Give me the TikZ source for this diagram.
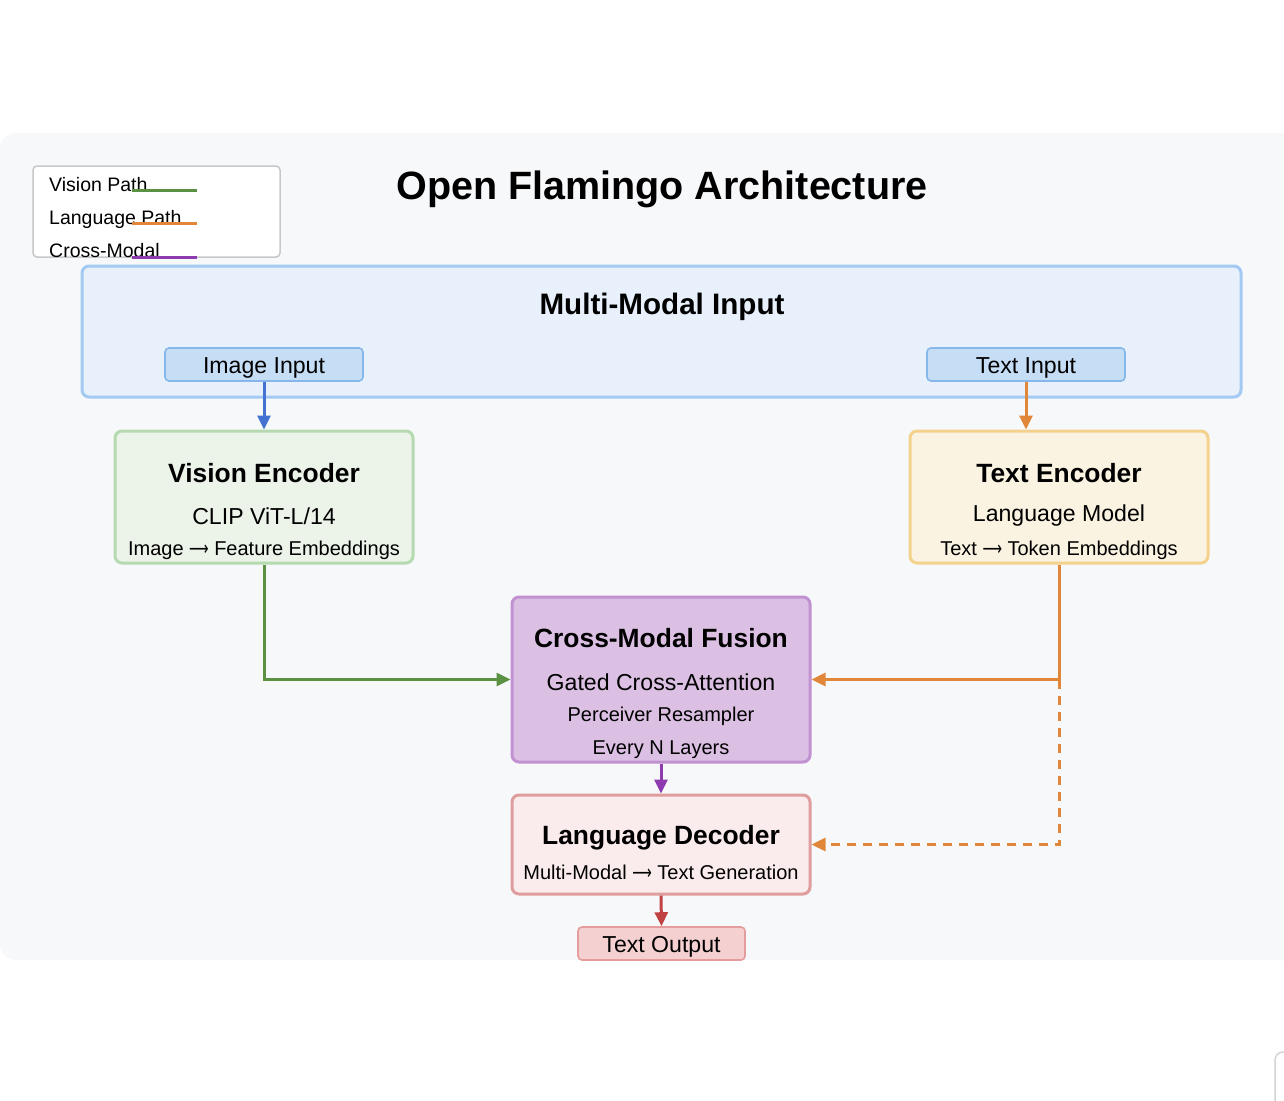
\documentclass[tikz,border=0pt]{standalone}
\usepackage{fontspec}
\setmainfont{Liberation Sans}
\newfontfamily\arrowfont{DejaVu Sans}
\usetikzlibrary{arrows.meta}
\newcommand{\larr}{\scalebox{0.68}[1]{\arrowfont\char"27F6}}
\definecolor{panel}{HTML}{F7F8FA}
\definecolor{legbd}{HTML}{C8C8C8}
\definecolor{inpfill}{HTML}{E8F1FB}
\definecolor{inpbd}{HTML}{A4C9F2}
\definecolor{subfill}{HTML}{C6DDF6}
\definecolor{subbd}{HTML}{86B6EA}
\definecolor{visfill}{HTML}{ECF4E9}
\definecolor{visbd}{HTML}{B6DAAF}
\definecolor{txtfill}{HTML}{FBF3E1}
\definecolor{txtbd}{HTML}{F4D18C}
\definecolor{fusfill}{HTML}{DBC0E4}
\definecolor{fusbd}{HTML}{C291D2}
\definecolor{decfill}{HTML}{FAEBEC}
\definecolor{decbd}{HTML}{E09D9D}
\definecolor{outfill}{HTML}{F5D0D1}
\definecolor{outbd}{HTML}{E59C9C}
\definecolor{cblue}{HTML}{4472D1}
\definecolor{cgreen}{HTML}{5A9143}
\definecolor{corange}{HTML}{E0873A}
\definecolor{cpurple}{HTML}{8E3BAF}
\definecolor{cred}{HTML}{C04242}
\tikzset{
  boxn/.style={draw, line width=3pt, rounded corners=7pt, inner sep=0pt},
  subn/.style={draw, line width=1.6pt, rounded corners=4pt, inner sep=0pt},
  conn/.style={line width=3pt, -{Triangle[length=14pt,width=13pt]}},
  ttl/.style={font=\bfseries\fontsize{26.4}{30}\selectfont},
  big/.style={font=\fontsize{23.1}{26}\selectfont},
  sml/.style={font=\fontsize{20}{22}\selectfont},
  leg/.style={font=\fontsize{19.5}{21}\selectfont, anchor=base west, inner sep=0pt},
}
\begin{document}
\begin{tikzpicture}[x=1pt,y=-1pt]
\useasboundingbox (0,0) rectangle (1284,1100);
\fill[white] (0,0) rectangle (1284,1100);
\fill[panel, rounded corners=16pt] (0,133) rectangle (1320,960);
% stray element bottom right
\draw[legbd!80, line width=1.5pt, rounded corners=8pt] (1275,1110) -- (1275,1052) -- (1300,1052);

% legend
\node[draw=legbd, fill=white, line width=1.5pt, rounded corners=4pt, minimum width=247pt, minimum height=91pt, inner sep=0pt] (legend) at (156.5,211.5) {};
\node[leg] (l1) at (49,191) {Vision Path};
\node[leg] (l2) at (49,224) {Language Path};
\node[leg] (l3) at (49,257) {Cross-Modal};
\coordinate (g1a) at (132,190); \coordinate (g1b) at (197,190);
\coordinate (g2a) at (132,223); \coordinate (g2b) at (197,223);
\coordinate (g3a) at (132,257); \coordinate (g3b) at (197,257);
\draw[cgreen, line width=3pt] (g1a) -- (g1b);
\draw[corange, line width=3pt] (g2a) -- (g2b);
\draw[cpurple, line width=3pt] (g3a) -- (g3b);

% title
\node[font=\bfseries\fontsize{39.5}{42}\selectfont] (title) at (662,189) {Open Flamingo Architecture};

% multi-modal input
\node[boxn, fill=inpfill, draw=inpbd, minimum width=1159pt, minimum height=131pt] (mmi) at (661.5,331.5) {};
\node[font=\bfseries\fontsize{29.6}{32}\selectfont] (mmit) at (662,307) {Multi-Modal Input};
\node[subn, fill=subfill, draw=subbd, minimum width=198pt, minimum height=33pt] (img) at (264,364.5) {};
\node[big] (imgt) at (264,367.5) {Image Input};
\node[subn, fill=subfill, draw=subbd, minimum width=198pt, minimum height=33pt] (txt) at (1026,364.5) {};
\node[big] (txtt) at (1026,367.5) {Text Input};

% vision encoder
\node[boxn, fill=visfill, draw=visbd, minimum width=298pt, minimum height=132pt] (vis) at (264,497) {};
\node[ttl] (vis1) at (264,473) {Vision Encoder};
\node[big] (vis2) at (264,516) {CLIP ViT-L/14};
\node[sml] (vis3) at (264,550) {Image \larr{} Feature Embeddings};

% text encoder
\node[boxn, fill=txtfill, draw=txtbd, minimum width=298pt, minimum height=132pt] (tenc) at (1059,497) {};
\node[ttl] (te1) at (1059,473) {Text Encoder};
\node[big] (te2) at (1059,516) {Language Model};
\node[sml] (te3) at (1059,550) {Text \larr{} Token Embeddings};

% fusion
\node[boxn, fill=fusfill, draw=fusbd, minimum width=298pt, minimum height=165pt] (fus) at (661,679.5) {};
\node[ttl] (f1) at (661,638) {Cross-Modal Fusion};
\node[big] (f2) at (661,682) {Gated Cross-Attention};
\node[sml] (f3) at (661,716.5) {Perceiver Resampler};
\node[sml] (f4) at (661,749.5) {Every N Layers};

% decoder
\node[boxn, fill=decfill, draw=decbd, minimum width=298pt, minimum height=99pt] (dec) at (661,844.5) {};
\node[ttl] (d1) at (661,837.5) {Language Decoder};
\node[sml] (d2) at (661,872.5) {Multi-Modal \larr{} Text Generation};

% output
\node[subn, fill=outfill, draw=outbd, minimum width=167pt, minimum height=33pt] (out) at (661.5,943.5) {};
\node[big] (outt) at (661.5,947) {Text Output};

% connectors
\draw[conn, cblue] (img.south) -- (vis.north);
\draw[conn, corange] (txt.south) -- (txt.south |- tenc.north);
\coordinate (vturn) at (vis.south |- fus.west);
\draw[conn, cgreen] (vis.south) -- (vturn) -- (fus.west);
\coordinate (tturn) at (tenc.south |- fus.east);
\draw[conn, corange] (tenc.south) -- (tturn) -- (fus.east);
\coordinate (dturn) at (tenc.south |- dec.east);
\draw[conn, corange, dash pattern=on 9pt off 7pt] (tturn) -- (dturn) -- (dec.east);
\draw[conn, cpurple] (fus.south) -- (dec.north);
\draw[conn, cred] (dec.south) -- (out.north);
\end{tikzpicture}
\end{document}
